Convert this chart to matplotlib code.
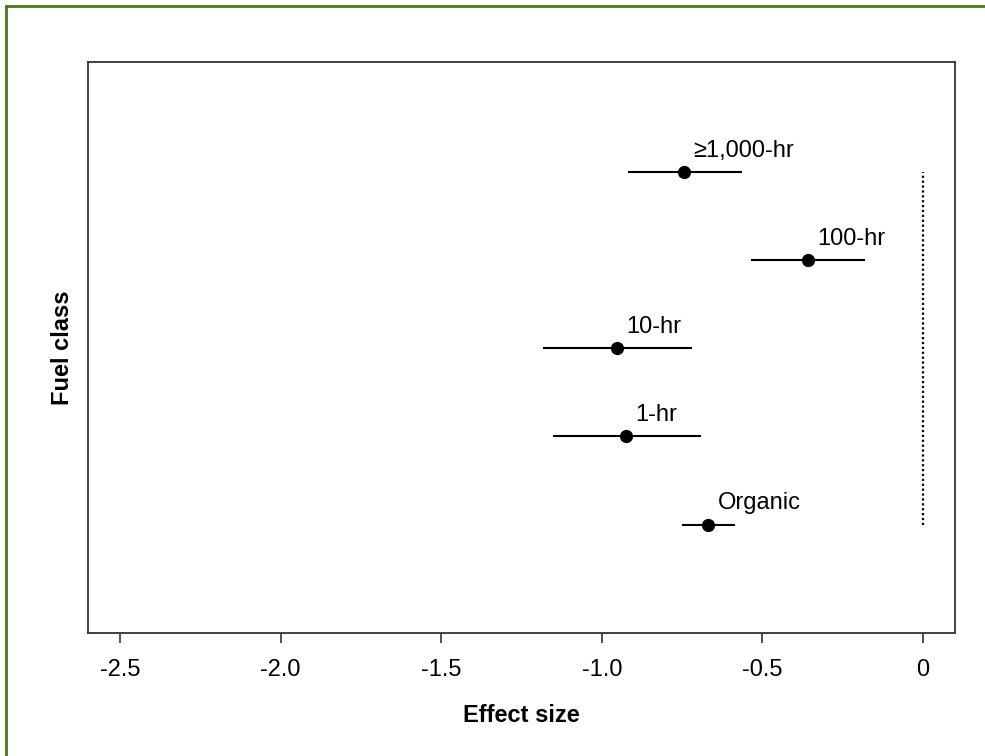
import matplotlib
matplotlib.use("Agg")
import matplotlib.pyplot as plt
from matplotlib.lines import Line2D

plt.rcParams['font.family'] = ['Liberation Sans', 'DejaVu Sans']

# fuel classes, bottom to top
classes = ["Organic", "1-hr", "10-hr", "100-hr", "\u22651,000-hr"]
ypos = [1, 2, 3, 4, 5]
effect = [-0.669, -0.925, -0.953, -0.359, -0.744]
lower = [-0.750, -1.153, -1.184, -0.534, -0.919]
upper = [-0.584, -0.691, -0.719, -0.181, -0.5625]

xticks = [-2.5, -2.0, -1.5, -1.0, -0.5, 0]
xticklabels = ["-2.5", "-2.0", "-1.5", "-1.0", "-0.5", "0"]

fig = plt.figure(figsize=(9.85, 7.56), dpi=100)
ax = fig.add_axes([88/985, 1-633/756, (955-88)/985, (633-62)/756])

for y, e, lo, hi, lab in zip(ypos, effect, lower, upper, classes):
    ax.plot([lo, hi], [y, y], color="black", lw=1.5, solid_capstyle="butt")
    ax.plot(e, y, "o", color="black", ms=8.5)
    ax.text(e + 0.03, y + 0.24, lab, ha="left", va="center", fontsize=17)

# zero reference line
ax.plot([0, 0], [min(ypos), max(ypos)], color="black", lw=1.6, ls=(0, (1, 1.2)))

ax.set_xlim(-2.6, 0.1)
ax.set_ylim(-0.23, 6.25)
ax.set_xticks(xticks)
ax.set_xticklabels(xticklabels, fontsize=17)
ax.set_yticks([])
ax.tick_params(axis="x", direction="out", length=7, width=1.2, color="#333333", pad=12)
for s in ax.spines.values():
    s.set_color("#333333")
    s.set_linewidth(1.3)

ax.set_xlabel("Effect size", fontsize=17, fontweight="bold", labelpad=16)
ax.set_ylabel("Fuel class", fontsize=17, fontweight="bold", labelpad=10)

# green frame on top and left
fig.add_artist(Line2D([6/985, 1], [1-6/756, 1-6/756], color="#4b7a1f", lw=2))
fig.add_artist(Line2D([6/985, 6/985], [0, 1-6/756], color="#4b7a1f", lw=2))

fig.savefig("out.png", dpi=100)
